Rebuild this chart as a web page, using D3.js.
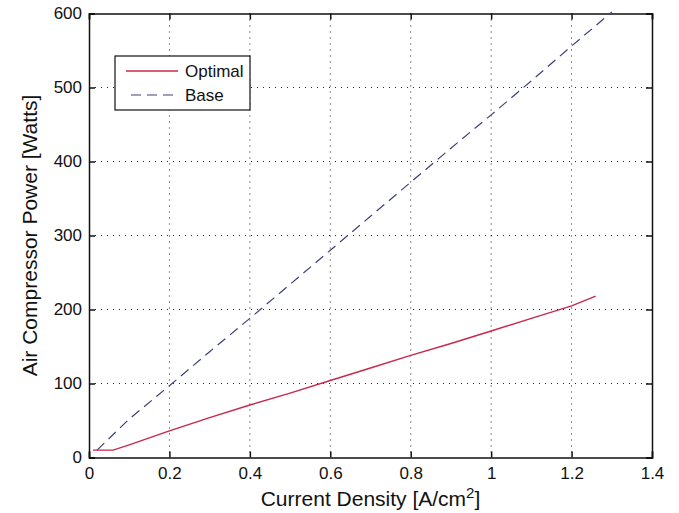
<!DOCTYPE html>
<html>
<head>
<meta charset="utf-8">
<script src="https://cdn.jsdelivr.net/npm/d3@7"></script>
<style>
  body { margin: 0; background: #fff; }
  text { font-family: "Liberation Sans", Arial, sans-serif; fill: #111; }
</style>
</head>
<body>
<script>
// chart data
var optX = [0.01, 0.06, 0.1, 0.2, 0.3, 0.4, 0.5, 0.6, 0.7, 0.8, 0.9, 1.0, 1.1, 1.2, 1.26];
var optY = [10, 10, 17, 36, 54, 71, 87, 104, 121, 138, 154, 171, 188, 205, 218];
var baseX = [0.02, 0.1, 0.2, 0.3, 0.4, 0.5, 0.6, 0.7, 0.8, 0.9, 1.0, 1.1, 1.2, 1.3];
var baseY = [10, 52, 97, 143, 188, 234, 280, 326, 372, 418, 463, 509, 556, 602];
var xTicks = [0, 0.2, 0.4, 0.6, 0.8, 1, 1.2, 1.4];
var yTicks = [0, 100, 200, 300, 400, 500, 600];
var seriesNames = ["Optimal", "Base"];

var svgWidth = 679;
var svgHeight = 513;

var margin = { top: 13.5, right: 27, bottom: 55.5, left: 89 };
var width = svgWidth - margin.left - margin.right;
var height = svgHeight - margin.top - margin.bottom;

var svg = d3.select("body")
  .append("svg")
  .attr("width", svgWidth)
  .attr("height", svgHeight);

var chartGroup = svg.append("g")
  .attr("transform", `translate(${margin.left}, ${margin.top})`);

var xScale = d3.scaleLinear().domain([0, 1.4]).range([0, width]);
var yScale = d3.scaleLinear().domain([0, 600]).range([height, 0]);

// dotted grid
chartGroup.selectAll(".vgrid")
  .data(xTicks.slice(1, -1))
  .enter().append("line")
  .attr("x1", d => xScale(d)).attr("x2", d => xScale(d))
  .attr("y1", 0).attr("y2", height)
  .attr("stroke", "#222").attr("stroke-width", 1)
  .attr("stroke-dasharray", "1,5");

chartGroup.selectAll(".hgrid")
  .data(yTicks.slice(1, -1))
  .enter().append("line")
  .attr("x1", 0).attr("x2", width)
  .attr("y1", d => yScale(d)).attr("y2", d => yScale(d))
  .attr("stroke", "#222").attr("stroke-width", 1)
  .attr("stroke-dasharray", "1,5");

// axes, ticks pointing inward like matlab
var bottomAxis = d3.axisBottom(xScale).tickValues(xTicks).tickSize(-6).tickPadding(9)
  .tickFormat(d => d === 0 ? "0" : d3.format("~g")(d));
var leftAxis = d3.axisLeft(yScale).tickValues(yTicks).tickSize(-6).tickPadding(7);
var topAxis = d3.axisTop(xScale).tickValues(xTicks).tickSize(-6).tickFormat("");
var rightAxis = d3.axisRight(yScale).tickValues(yTicks).tickSize(-6).tickFormat("");

function styleAxis(g) {
  g.select(".domain").attr("stroke", "#111").attr("stroke-width", 1.5);
  g.selectAll(".tick line").attr("stroke", "#111").attr("stroke-width", 1.5);
  g.selectAll(".tick text").style("font-size", "17px").attr("fill", "#111")
    .style("font-family", "'Liberation Sans', Arial, sans-serif");
}

chartGroup.append("g").attr("transform", `translate(0, ${height})`).call(bottomAxis).call(styleAxis);
chartGroup.append("g").call(leftAxis).call(styleAxis);
chartGroup.append("g").call(topAxis).call(styleAxis);
chartGroup.append("g").attr("transform", `translate(${width}, 0)`).call(rightAxis).call(styleAxis);

// lines
var optData = optX.map((x, i) => [x, optY[i]]);
var baseData = baseX.map((x, i) => [x, baseY[i]]);

var line = d3.line()
  .x(d => xScale(d[0]))
  .y(d => yScale(d[1]));

chartGroup.append("path")
  .datum(baseData)
  .attr("d", line)
  .attr("fill", "none")
  .attr("stroke", "#3d3f7a")
  .attr("stroke-width", 1.2)
  .attr("stroke-dasharray", "10,6");

chartGroup.append("path")
  .datum(optData)
  .attr("d", line)
  .attr("fill", "none")
  .attr("stroke", "#c8284a")
  .attr("stroke-width", 1.4);

// legend
var legend = svg.append("g").attr("transform", "translate(115, 56)");
legend.append("rect")
  .attr("width", 135).attr("height", 54)
  .attr("fill", "#fff").attr("stroke", "#111").attr("stroke-width", 1.2);

legend.append("line")
  .attr("x1", 11).attr("x2", 63).attr("y1", 15).attr("y2", 15)
  .attr("stroke", "#c8284a").attr("stroke-width", 1.4);
legend.append("line")
  .attr("x1", 16).attr("x2", 63).attr("y1", 39).attr("y2", 39)
  .attr("stroke", "#3d3f7a").attr("stroke-width", 1.2)
  .attr("stroke-dasharray", "10,6");

legend.selectAll(".ltext")
  .data(seriesNames)
  .enter().append("text")
  .attr("x", 70)
  .attr("y", (d, i) => 21 + i * 24)
  .style("font-size", "17px")
  .text(d => d);

// axis titles
svg.append("text")
  .attr("x", margin.left + width / 2)
  .attr("y", 506)
  .attr("text-anchor", "middle")
  .style("font-size", "21px")
  .text("Current Density [A/cm")
  .append("tspan").attr("baseline-shift", "super").style("font-size", "15px").text("2")
  .select(function() { return this.parentNode; })
  .append("tspan").text("]");

svg.append("text")
  .attr("transform", `translate(37, ${margin.top + height / 2}) rotate(-90)`)
  .attr("text-anchor", "middle")
  .style("font-size", "21px")
  .text("Air Compressor Power [Watts]");
</script>
</body>
</html>
